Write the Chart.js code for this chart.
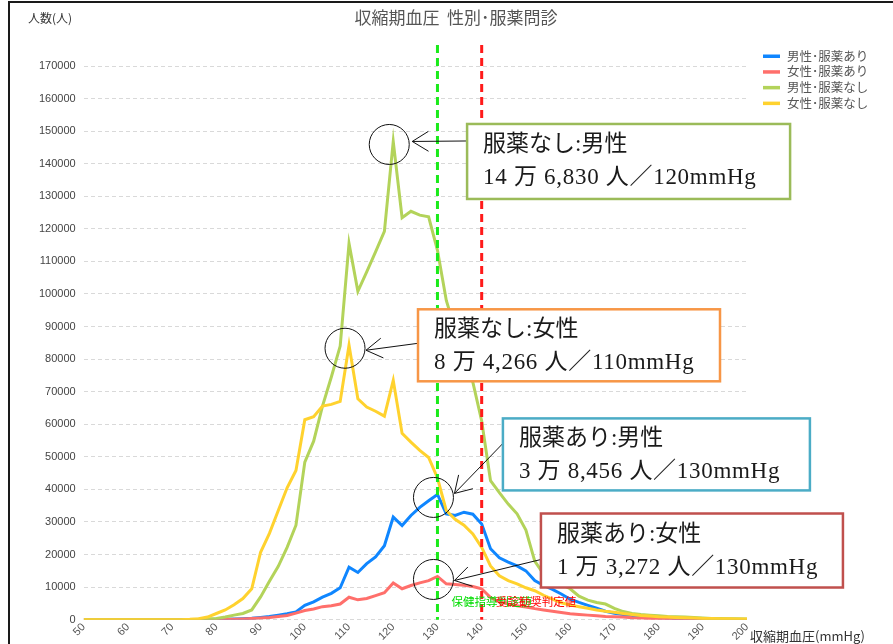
<!DOCTYPE html>
<html><head><meta charset="utf-8">
<script src="https://cdn.jsdelivr.net/npm/chart.js@4.4.0/dist/chart.umd.min.js"></script>
<style>
html,body{margin:0;padding:0;background:#fff;}
canvas{display:block;}
</style></head><body>
<canvas id="c" width="893" height="644"></canvas>
<script>
// ---- data (systolic BP in 2 mmHg classes) ----
const bpLevels = [
  50,52,54,56,58, 60,62,64,66,68, 70,72,74,76,78, 80,82,84,86,88, 90,92,94,96,98,
  100,102,104,106,108, 110,112,114,116,118, 120,122,124,126,128, 130,132,134,136,138,
  140,142,144,146,148, 150,152,154,156,158, 160,162,164,166,168, 170,172,174,176,178,
  180,182,184,186,188, 190,192,194,196,198, 200
];
const maleMed = [ // 男性･服薬あり
  0,0,0,0,0, 0,0,0,0,0, 0,0,0,0,50, 100,150,200,300,450, 700,1000,1400,1800,2400,
  4400,5500,6900,8100,9800, 16100,14500,17200,19300,22700, 31500,28900,32000,34500,36500, 38456,32500,32000,33000,32400,
  29400,21800,19000,17700,16500, 15000,12000,10500,9300,7900, 6300,5300,4400,3500,2600, 2000,1600,1300,1000,800,
  600,500,400,300,250, 200,150,100,100,50, 50
];
const femaleMed = [ // 女性･服薬あり
  0,0,0,0,0, 0,0,0,0,0, 0,0,0,0,0, 50,100,150,250,350, 500,700,1000,1300,2000,
  2800,3300,4000,4300,4800, 6900,6100,6500,7400,8300, 11300,9500,10500,11300,12000, 13272,11000,10800,10600,10200,
  9500,6800,5500,4800,4300, 3900,3400,3000,2600,2200, 1800,1600,1400,1200,1000, 900,800,600,500,400,
  350,300,250,200,150, 100,100,50,50,50, 0
];
const maleNoMed = [ // 男性･服薬なし
  0,0,0,0,0, 0,0,0,0,0, 0,0,0,100,200, 400,800,1400,1900,3000, 7000,11800,16400,22200,29000,
  48400,54800,65600,74500,84000, 115500,100800,106800,112900,119200, 146830,123400,125400,124200,123700, 113400,98000,89000,81000,72900,
  61000,42700,39000,35500,32500, 27500,18000,14000,12300,10800, 9500,7200,6000,5300,4800, 3500,2500,1900,1600,1400,
  1200,1000,900,800,650, 500,400,350,300,250, 200
];
const femaleNoMed = [ // 女性･服薬なし
  0,0,0,0,0, 0,0,0,0,0, 0,0,100,300,800, 1900,3000,4600,6500,9500, 20700,26500,33500,40500,45800,
  61400,62300,65600,66100,67000, 84266,67800,65300,64000,62500, 73500,57200,54500,52000,49800, 43500,33500,30800,29000,26300,
  22200,16500,13500,12000,11000, 9800,8900,7500,6300,5200, 4500,4000,3500,3000,2600, 2300,1900,1600,1300,1100,
  900,800,700,600,500, 400,350,300,250,200, 200
];
const seriesLabels = ['男性･服薬あり','女性･服薬あり','男性･服薬なし','女性･服薬なし'];
const xTickValues = [50,60,70,80,90,100,110,120,130,140,150,160,170,180,190,200];
const yTickValues = [0,10000,20000,30000,40000,50000,60000,70000,80000,90000,100000,110000,120000,130000,140000,150000,160000,170000];
const guideValues = [130, 140];
const guideLabels = ['保健指導判定値','受診勧奨判定値'];
const chartTitle = '収縮期血圧  性別･服薬問診';
const yTitle = '人数(人)';
const xTitle = '収縮期血圧(mmHg)';

// callouts: which series / which class they point at, with their texts
const calloutSeries = [2, 3, 0, 1];
const calloutAt = [120, 110, 130, 130];
const calloutTitles = ['服薬なし:男性','服薬なし:女性','服薬あり:男性','服薬あり:女性'];
const calloutTexts = ['14 万 6,830 人／120mmHg','8 万 4,266 人／110mmHg','3 万 8,456 人／130mmHg','1 万 3,272 人／130mmHg'];

// ---- styles / placement ----
const seriesColors = ['#0f86ff','#ff6f6b','#b3d35a','#ffd22e'];
const seriesValues = [maleMed, femaleMed, maleNoMed, femaleNoMed];
const guideColors = ['#1aeb1a','#ff1a1a'];
const guideTextColors = ['#00dd00','#ff0000'];
const calloutStyle = [
  {color:'#9bbb59', box:{x:136.7, y:152200, w:323, h:75}, from:17, to:[23,-3]},
  {color:'#f79646', box:{x:125.6, y:95300,  w:302, h:72}, from:34, to:[21,2]},
  {color:'#4bacc6', box:{x:144.8, y:61800,  w:307, h:72}, from:25, to:[21,-4]},
  {color:'#c0504d', box:{x:153.4, y:32600,  w:302, h:74}, from:46, to:[21,1]}
];
const JP = '"Noto Sans CJK JP", sans-serif';
const SERIF = '"Liberation Serif", "Noto Sans CJK JP", serif';

Chart.defaults.font.family = '"Liberation Sans", "Noto Sans CJK JP", sans-serif';

function arrowHead(ctx, x1, y1, x2, y2, len, ang) {
  const a = Math.atan2(y2 - y1, x2 - x1);
  ctx.beginPath();
  ctx.moveTo(x2 + len * Math.cos(a + Math.PI - ang), y2 + len * Math.sin(a + Math.PI - ang));
  ctx.lineTo(x2, y2);
  ctx.lineTo(x2 + len * Math.cos(a + Math.PI + ang), y2 + len * Math.sin(a + Math.PI + ang));
  ctx.stroke();
}

const decor = {
  id: 'decor',
  beforeDraw(chart) {
    const ctx = chart.ctx;
    ctx.save();
    ctx.fillStyle = '#fff';
    ctx.fillRect(0, 0, chart.width, chart.height);
    ctx.restore();
  },
  afterDatasetsDraw(chart) {
    const {ctx, chartArea: a, scales: {x, y}} = chart;
    ctx.save();
    // guide lines
    guideValues.forEach((v, i) => {
      const gx = x.getPixelForValue(v);
      ctx.strokeStyle = guideColors[i];
      ctx.lineWidth = 3;
      ctx.setLineDash([8, 5]);
      ctx.beginPath();
      ctx.moveTo(gx, a.top - 21);
      ctx.lineTo(gx, a.bottom);
      ctx.stroke();
    });
    ctx.setLineDash([]);
    ctx.font = '11.5px ' + JP;
    ctx.textBaseline = 'middle';
    ctx.textAlign = 'left';
    guideValues.forEach((v, i) => {
      ctx.fillStyle = guideTextColors[i];
      ctx.fillText(guideLabels[i], x.getPixelForValue(v) + 14, a.bottom - 18);
    });
    // callouts
    calloutSeries.forEach((s, i) => {
      const st = calloutStyle[i];
      const idx = bpLevels.indexOf(calloutAt[i]);
      const cx = x.getPixelForValue(calloutAt[i]) - 4;
      const cy = y.getPixelForValue(seriesValues[s][idx]) + 3;
      ctx.strokeStyle = '#111';
      ctx.lineWidth = 1;
      ctx.beginPath();
      ctx.arc(cx, cy, 20, 0, Math.PI * 2);
      ctx.stroke();
      const bx = x.getPixelForValue(st.box.x), by = y.getPixelForValue(st.box.y);
      const sx = bx, sy = by + st.from;
      const ex = cx + st.to[0], ey = cy + st.to[1];
      ctx.beginPath();
      ctx.moveTo(sx, sy);
      ctx.lineTo(ex, ey);
      ctx.stroke();
      arrowHead(ctx, sx, sy, ex, ey, 19, 0.55);
      ctx.fillStyle = '#fff';
      ctx.fillRect(bx, by, st.box.w, st.box.h);
      ctx.strokeStyle = st.color;
      ctx.lineWidth = 2.5;
      ctx.strokeRect(bx, by, st.box.w, st.box.h);
      ctx.fillStyle = '#1a1a1a';
      ctx.font = '23px ' + SERIF;
      ctx.textAlign = 'left';
      ctx.textBaseline = 'middle';
      ctx.letterSpacing = '0px';
      ctx.fillText(calloutTitles[i], bx + 16, by + 21);
      ctx.letterSpacing = '0.7px';
      ctx.fillText(calloutTexts[i], bx + 16, by + 54);
      ctx.letterSpacing = '0px';
    });
    ctx.restore();
  },
  afterDraw(chart) {
    const ctx = chart.ctx;
    ctx.save();
    // frame
    ctx.fillStyle = '#1a1a1a';
    ctx.fillRect(8, 1, 2, chart.height);
    ctx.fillRect(8, 1, chart.width, 2);
    // titles
    ctx.textBaseline = 'middle';
    ctx.fillStyle = '#555';
    ctx.font = '17px ' + JP;
    ctx.textAlign = 'center';
    ctx.fillText(chartTitle, 456, 18);
    ctx.textAlign = 'left';
    ctx.fillStyle = '#333';
    ctx.font = '12px ' + JP;
    ctx.fillText(yTitle, 28, 18);
    ctx.font = '13px ' + JP;
    ctx.fillText(xTitle, 750, 636);
    // legend
    ctx.font = '12.5px ' + JP;
    chart.data.datasets.forEach((ds, i) => {
      const ly = 56 + i * 15.7;
      ctx.fillStyle = ds.borderColor;
      ctx.fillRect(763, ly - 1.5, 17, 3.5);
      ctx.fillStyle = '#555';
      ctx.fillText(ds.label, 787, ly);
    });
    ctx.restore();
  }
};

const drawOrder = [4, 3, 2, 1];
new Chart(document.getElementById('c'), {
  type: 'line',
  data: {
    datasets: seriesValues.map((vals, i) => ({
      label: seriesLabels[i],
      data: bpLevels.map((b, k) => ({x: b, y: vals[k]})),
      borderColor: seriesColors[i],
      backgroundColor: seriesColors[i],
      borderWidth: 3,
      pointRadius: 0,
      tension: 0,
      fill: false,
      order: drawOrder[i]
    }))
  },
  options: {
    responsive: false,
    animation: false,
    devicePixelRatio: 1,
    layout: {padding: {left: 31, right: 146, top: 66, bottom: 0}},
    plugins: {legend: {display: false}, tooltip: {enabled: false}, title: {display: false}},
    scales: {
      x: {
        type: 'linear', min: 50, max: 200,
        afterBuildTicks: s => { s.ticks = xTickValues.map(v => ({value: v})); },
        grid: {display: false, drawTicks: false},
        border: {display: false},
        ticks: {autoSkip: false, minRotation: 45, maxRotation: 45, padding: 1, color: '#555', font: {size: 11}, callback: v => String(v)}
      },
      y: {
        min: 0, max: 170000,
        afterBuildTicks: s => { s.ticks = yTickValues.map(v => ({value: v})); },
        grid: {color: '#d9d9d9', lineWidth: 1, drawTicks: false},
        border: {display: false, dash: [4, 3]},
        ticks: {padding: 8, color: '#444', font: {size: 11}, callback: v => String(v)}
      }
    }
  },
  plugins: [decor]
});
</script>
</body></html>
